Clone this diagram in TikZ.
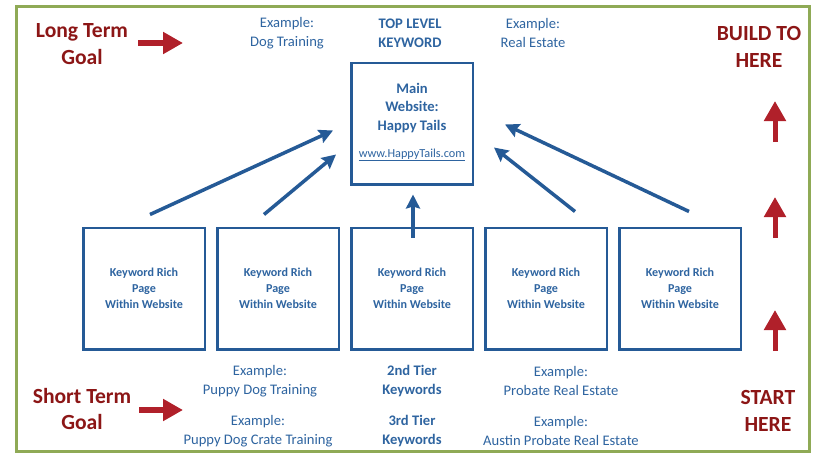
\documentclass[tikz,border=0pt]{standalone}
\usepackage{fontspec}
\setmainfont{Carlito}
\usetikzlibrary{positioning,arrows.meta}
\definecolor{frameGreen}{RGB}{143,170,86}
\definecolor{boxBlue}{RGB}{37,90,150}
\definecolor{textBlue}{RGB}{46,100,160}
\definecolor{goalRed}{RGB}{140,22,22}
\definecolor{arrowRed}{RGB}{176,32,42}

\begin{document}
\begin{tikzpicture}[%
    x=1pt, y=-1pt,
    page/.style={%
        draw=boxBlue,
        line width=2.5pt,
        minimum width=121.5pt,
        minimum height=121.5pt,
        inner sep=0pt,
        align=center,
        text=textBlue,
        font=\bfseries\fontsize{12.1}{15.8}\selectfont
    },
    example/.style={%
        align=center,
        text=textBlue,
        inner sep=0pt,
        font=\fontsize{14.6}{18.8}\selectfont
    },
    tier/.style={%
        align=center,
        text=textBlue,
        inner sep=0pt,
        font=\bfseries\fontsize{14.6}{18.8}\selectfont
    },
    goal/.style={%
        align=center,
        text=goalRed,
        inner sep=0pt,
        font=\bfseries\fontsize{21.6}{26.5}\selectfont
    },
    link/.style={%
        draw=boxBlue,
        line width=3.5pt,
        -{Stealth[length=14pt,width=14pt,inset=2pt]}
    },
    push/.style={%
        draw=arrowRed,
        line width=5.5pt,
        -{Triangle[length=20pt,width=21pt]}
    }
]

\useasboundingbox (0,0) rectangle (817,453);

% Frame
\draw[frameGreen, line width=3pt] (16,6) rectangle (809,451);

% Pages within website
\node[page] (page1) at (144,288.5) {Keyword Rich\\Page\\Within Website};
\node[page, right=10pt of page1] (page2) {Keyword Rich\\Page\\Within Website};
\node[page, right=10pt of page2] (page3) {Keyword Rich\\Page\\Within Website};
\node[page, right=10pt of page3] (page4) {Keyword Rich\\Page\\Within Website};
\node[page, right=10pt of page4] (page5) {Keyword Rich\\Page\\Within Website};

% Main website
\node[page, above=41pt of page3] (main) {};
\node[tier] (mainname) at (412,108) {Main\\Website:\\Happy Tails};
\node[example, font=\fontsize{12.25}{15}\selectfont] (mainurl) at (412,155)
    {\underline{www.HappyTails.com}};

% Top level keywords
\node[example] (topex1) at (287,33) {Example:\\Dog Training};
\node[tier] (toplevel) at (410,33) {TOP LEVEL\\KEYWORD};
\node[example] (topex2) at (533,33) {Example:\\Real Estate};

% 2nd and 3rd tier keywords
\node[example] (tier2ex1) at (260,381) {Example:\\Puppy Dog Training};
\node[tier] (tier2) at (412,381) {2nd Tier\\Keywords};
\node[example] (tier2ex2) at (561,381) {Example:\\Probate Real Estate};
\node[example] (tier3ex1) at (258,431) {Example:\\Puppy Dog Crate Training};
\node[tier] (tier3) at (412,431) {3rd Tier\\Keywords};
\node[example] (tier3ex2) at (561,431) {Example:\\Austin Probate Real Estate};

% Goals
\node[goal] (longgoal) at (82,44) {Long Term\\Goal};
\node[goal] (shortgoal) at (82,409) {Short Term\\Goal};
\node[goal] (buildhere) at (759,47) {BUILD TO\\HERE};
\node[goal] (starthere) at (768,411) {START\\HERE};

% Arrows to main website
\draw[link] ([xshift=6pt,yshift=12pt]page1.north) -- ([xshift=-17pt,yshift=-7pt]main.west);
\draw[link] ([xshift=-14pt,yshift=12pt]page2.north) -- ([xshift=-14pt,yshift=-31pt]main.west);
\draw[link] ([xshift=1pt,yshift=-11pt]page3.north) -- ([xshift=1pt,yshift=-9pt]main.south);
\draw[link] ([xshift=29pt,yshift=15pt]page4.north) -- ([xshift=20pt,yshift=-24pt]main.east);
\draw[link] ([xshift=9pt,yshift=15pt]page5.north) -- ([xshift=31pt,yshift=-1pt]main.east);

% Goal arrows
\coordinate (longtip) at (183,43);
\coordinate (shorttip) at (183,410);
\draw[push] ([xshift=10pt,yshift=1pt]longgoal.east) -- (longtip);
\draw[push] ([xshift=8pt,yshift=-1pt]shortgoal.east) -- (shorttip);

% Build up arrows
\coordinate (up1) at (775,142);
\coordinate (up1tip) at (775,101);
\coordinate (up2) at (775,238);
\coordinate (up2tip) at (775,197);
\coordinate (up3) at (775,351);
\coordinate (up3tip) at (775,310);
\draw[push, line width=5pt] (up1) -- (up1tip);
\draw[push, line width=5pt] (up2) -- (up2tip);
\draw[push, line width=5pt] (up3) -- (up3tip);

\end{tikzpicture}
\end{document}
